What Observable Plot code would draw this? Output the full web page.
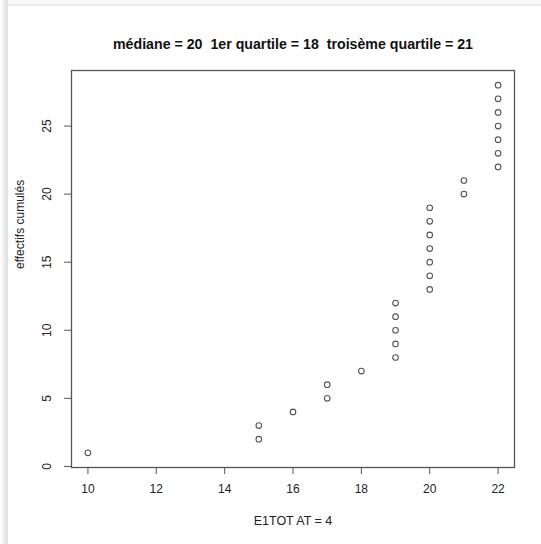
<!DOCTYPE html>
<html>
<head>
<meta charset="utf-8">
<script src="https://cdn.jsdelivr.net/npm/d3@7"></script>
<script src="https://cdn.jsdelivr.net/npm/@observablehq/plot@0.6"></script>
<style>
  html, body { margin: 0; padding: 0; background: #fff; }
  #wrap { position: relative; width: 541px; height: 544px; overflow: hidden; }
  #shadow { position: absolute; left: 0; top: 0; width: 8px; height: 544px;
    background: linear-gradient(to right, #fff 0%, #f4f4f4 40%, #dcdcdc 85%, #ececec 100%); }
  #topline { position: absolute; left: 8px; top: 0; width: 533px; height: 6px;
    background: linear-gradient(to bottom, #fafafa 0%, #f6f6f6 70%, #e2e2e2 100%); }
  #chart { position: absolute; left: 0; top: 0; }
  svg text { font-family: "Liberation Sans", Arial, Helvetica, sans-serif; }
</style>
</head>
<body>
<div id="wrap"><div id="shadow"></div><div id="topline"></div><div id="chart"></div></div>
<script>
// Data: x value and cumulative count
const xValues = [10, 15, 15, 16, 17, 17, 18, 19, 19, 19, 19, 19, 20, 20, 20, 20, 20, 20, 20, 21, 21, 22, 22, 22, 22, 22, 22, 22];
const cumCounts = [1, 2, 3, 4, 5, 6, 7, 8, 9, 10, 11, 12, 13, 14, 15, 16, 17, 18, 19, 20, 21, 22, 23, 24, 25, 26, 27, 28];
const xTicks = [10, 12, 14, 16, 18, 20, 22];
const yTicks = [0, 5, 10, 15, 20, 25];
const titleText = "médiane = 20  1er quartile = 18  troisème quartile = 21";
const xLabel = "E1TOT AT = 4";
const yLabel = "effectifs cumulés";

const data = xValues.map((x, i) => ({x, y: cumCounts[i]}));
// R-style 4% range extension
const xmin = d3.min(xValues), xmax = d3.max(xValues);
const ymin = d3.min(cumCounts), ymax = d3.max(cumCounts);
const xPad = (xmax - xmin) * 0.04, yPad = (ymax - ymin) * 0.04;

const chart = Plot.plot({
  width: 541,
  height: 544,
  marginLeft: 71,
  marginRight: 27,
  marginTop: 70,
  marginBottom: 77,
  style: {background: "transparent", fontSize: "12px", color: "#222"},
  x: {domain: [xmin - xPad, xmax + xPad], ticks: xTicks, label: null},
  y: {domain: [ymin - yPad, ymax + yPad], ticks: yTicks, label: null},
  marks: [
    Plot.frame({stroke: "#555", strokeWidth: 1.3}),
    Plot.axisX({ticks: xTicks, tickSize: 7, tickPadding: 10, tickFormat: d => String(d), stroke: "#555", fill: "#222", fontSize: 12}),
    Plot.axisY({ticks: yTicks, tickSize: 7, tickPadding: 14, tickRotate: -90, tickFormat: d => String(d), stroke: "#555", fill: "#222", fontSize: 12, textAnchor: "middle"}),
    Plot.dot(data, {x: "x", y: "y", r: 2.8, stroke: "#555", strokeWidth: 1.1, fill: "none"}),
    Plot.text([titleText], {frameAnchor: "top", dy: -32, text: d => d, fontWeight: "bold", fontSize: 14.2, fill: "#111"}),
    Plot.text([xLabel], {frameAnchor: "bottom", dy: 57, text: d => d, fontSize: 12.5, fill: "#222"}),
    Plot.text([yLabel], {frameAnchor: "left", dx: -51, rotate: -90, text: d => d, fontSize: 12, fill: "#222"})
  ]
});
document.getElementById("chart").appendChild(chart);
</script>
</body>
</html>
